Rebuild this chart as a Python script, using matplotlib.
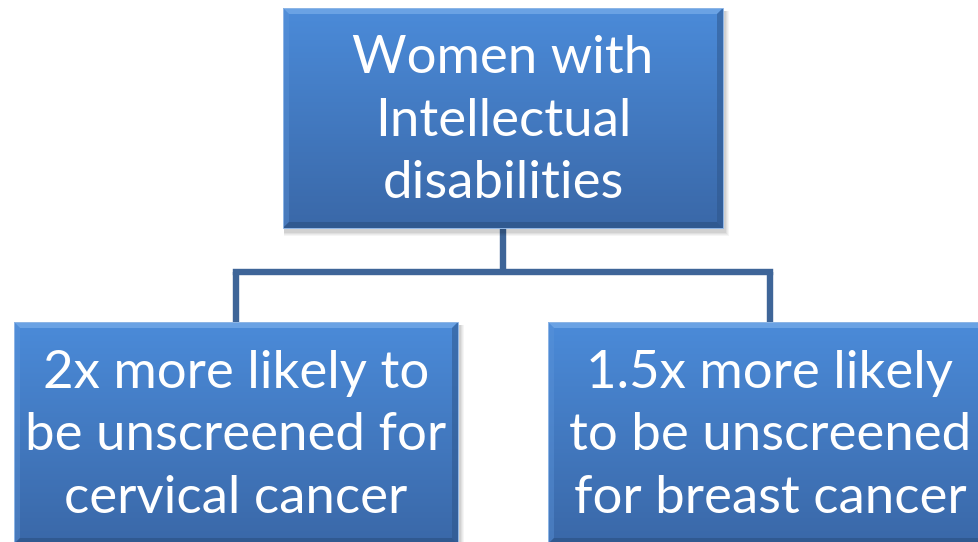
import numpy as np
import matplotlib
matplotlib.use("Agg")
import matplotlib.pyplot as plt
from matplotlib.patches import Rectangle, Polygon
from matplotlib.colors import LinearSegmentedColormap

# ---- content ----
root_label = "Women with\nIntellectual\ndisabilities"
child_labels = ["2x more likely to\nbe unscreened for\ncervical cancer",
                "1.5x more likely\nto be unscreened\nfor breast cancer"]

W, H = 979, 542
fig = plt.figure(figsize=(W / 100, H / 100), dpi=100)
ax = fig.add_axes([0, 0, 1, 1])
ax.set_xlim(0, W)
ax.set_ylim(H, 0)
ax.axis("off")

line_col = "#3e6598"
top_col = np.array([0x4b, 0x8b, 0xd9]) / 255
bot_col = np.array([0x3a, 0x68, 0xa8]) / 255
cmap = LinearSegmentedColormap.from_list("g", [top_col, bot_col])

FONT = "Lato"
FS = 38


def box(x, y, w, h, text):
    # soft shadow
    for i, a in enumerate([0.04, 0.04, 0.05, 0.06]):
        off = 5 - i
        ax.add_patch(Rectangle((x + 1, y + 3), w + off, h + off, facecolor="black",
                               alpha=a, edgecolor="none", zorder=2))
    grad = np.linspace(0, 1, 256).reshape(-1, 1)
    im = ax.imshow(grad, cmap=cmap, extent=(x, x + w, y + h, y), aspect="auto", zorder=3,
                   interpolation="bilinear")
    r = Rectangle((x, y), w, h, transform=ax.transData)
    im.set_clip_path(r)
    b = 6
    # bevel edges
    ax.add_patch(Polygon([(x, y), (x + w, y), (x + w - b, y + b), (x + b, y + b)],
                         facecolor="#86b6ef", alpha=0.55, edgecolor="none", zorder=4))
    ax.add_patch(Polygon([(x, y), (x + b, y + b), (x + b, y + h - b), (x, y + h)],
                         facecolor="#5d95da", alpha=0.4, edgecolor="none", zorder=4))
    ax.add_patch(Polygon([(x + w, y), (x + w, y + h), (x + w - b, y + h - b), (x + w - b, y + b)],
                         facecolor="#2d5488", alpha=0.5, edgecolor="none", zorder=4))
    ax.add_patch(Polygon([(x, y + h), (x + w, y + h), (x + w - b, y + h - b), (x + b, y + h - b)],
                         facecolor="#2a4f80", alpha=0.6, edgecolor="none", zorder=4))
    ax.add_patch(Rectangle((x, y), w, h, facecolor="none", edgecolor="#8fb6e6",
                           linewidth=0.7, zorder=5))
    ax.text(x + w / 2, y + h / 2 + 3, text, ha="center", va="center", color="white",
            fontsize=FS, family=FONT, linespacing=1.4, zorder=6)


# connectors
lw = 4.6
ax.plot([503, 503], [228, 272], color=line_col, lw=lw, zorder=1, solid_capstyle="butt")
ax.plot([236, 770], [272, 272], color=line_col, lw=lw, zorder=1, solid_capstyle="projecting")
ax.plot([236, 236], [272, 322], color=line_col, lw=lw, zorder=1, solid_capstyle="butt")
ax.plot([770, 770], [272, 322], color=line_col, lw=lw, zorder=1, solid_capstyle="butt")

box(283, 8, 440, 220, root_label)
box(14, 322, 444, 222, child_labels[0])
box(548, 322, 444, 222, child_labels[1])

fig.savefig("out.png", dpi=100, facecolor="white")
